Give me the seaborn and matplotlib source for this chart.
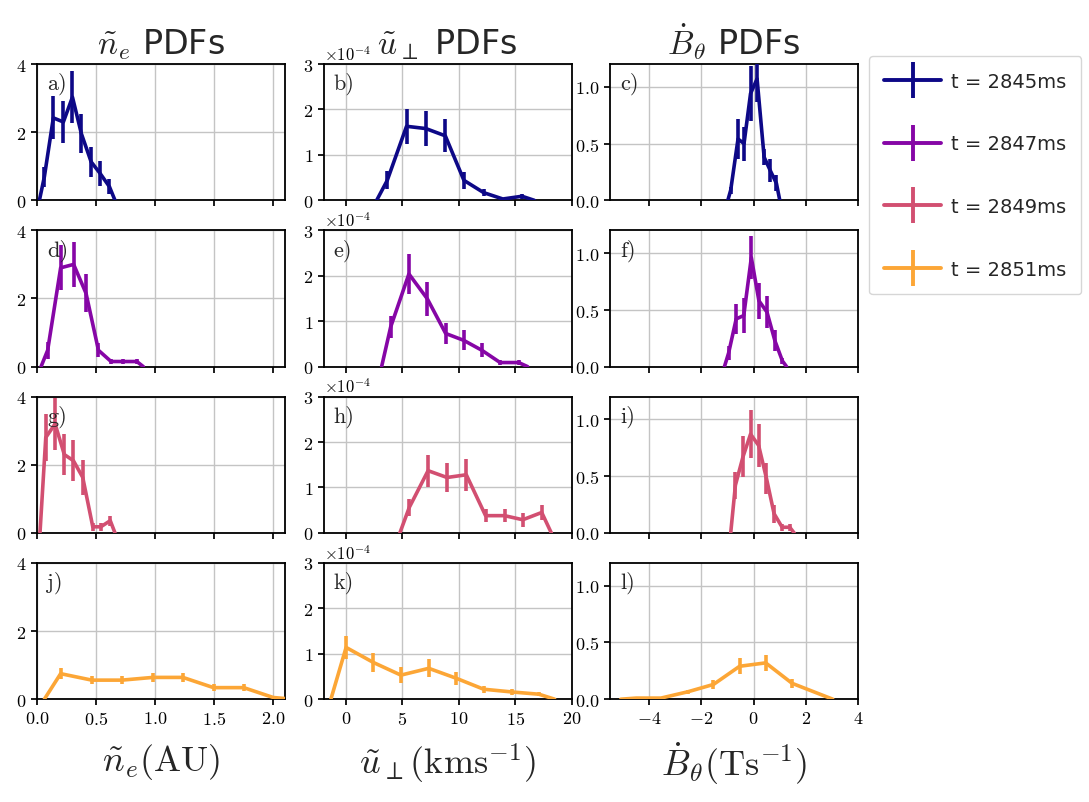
import numpy as np
import pandas as pd
import matplotlib
matplotlib.use("Agg")
import matplotlib.pyplot as plt
import seaborn as sns
from matplotlib.lines import Line2D

# ---------------- data ----------------
times = ["2845", "2847", "2849", "2851"]
panel_letters = ["a)", "b)", "c)", "d)", "e)", "f)", "g)", "h)", "i)", "j)", "k)", "l)"]

# column 1: n_e PDFs
ne_x_2845 = [0.02, 0.062, 0.138, 0.223, 0.30, 0.375, 0.458, 0.534, 0.613, 0.66]
ne_y_2845 = [0.0, 0.69, 2.42, 2.30, 3.03, 1.96, 1.13, 0.79, 0.40, 0.0]
ne_e_2845 = [0.0, 0.29, 0.63, 0.63, 0.77, 0.58, 0.44, 0.36, 0.22, 0.0]

ne_x_2847 = [0.034, 0.09, 0.20, 0.31, 0.415, 0.52, 0.627, 0.73, 0.845, 0.90]
ne_y_2847 = [0.0, 0.48, 2.90, 3.00, 2.15, 0.48, 0.15, 0.15, 0.15, 0.0]
ne_e_2847 = [0.0, 0.25, 0.66, 0.67, 0.56, 0.20, 0.08, 0.08, 0.08, 0.0]

ne_x_2849 = [0.025, 0.074, 0.153, 0.231, 0.308, 0.387, 0.472, 0.54, 0.62, 0.66]
ne_y_2849 = [0.0, 2.80, 3.20, 2.30, 2.12, 1.63, 0.18, 0.18, 0.36, 0.0]
ne_e_2849 = [0.0, 0.70, 0.76, 0.61, 0.61, 0.51, 0.12, 0.12, 0.15, 0.0]

ne_x_2851 = [0.062, 0.20, 0.464, 0.718, 0.98, 1.235, 1.494, 1.75, 2.0, 2.1]
ne_y_2851 = [0.0, 0.75, 0.56, 0.56, 0.64, 0.64, 0.34, 0.34, 0.05, 0.02]
ne_e_2851 = [0.0, 0.17, 0.12, 0.12, 0.14, 0.14, 0.10, 0.10, 0.0, 0.0]

# column 2: u_perp PDFs (units of 1e-4)
u_x_2845 = [2.71, 3.65, 5.36, 7.07, 8.80, 10.45, 12.2, 13.9, 15.6, 16.7]
u_y_2845 = [0.0, 0.44, 1.63, 1.58, 1.42, 0.44, 0.17, 0.03, 0.09, 0.0]
u_e_2845 = [0.0, 0.20, 0.38, 0.38, 0.36, 0.18, 0.08, 0.03, 0.05, 0.0]

u_x_2847 = [3.15, 3.95, 5.57, 7.21, 8.83, 10.42, 12.04, 13.66, 15.3, 16.1]
u_y_2847 = [0.0, 0.87, 2.04, 1.49, 0.73, 0.58, 0.36, 0.09, 0.09, 0.0]
u_e_2847 = [0.0, 0.25, 0.44, 0.38, 0.24, 0.22, 0.15, 0.05, 0.05, 0.0]

u_x_2849 = [4.77, 5.60, 7.27, 8.95, 10.66, 12.37, 14.05, 15.67, 17.35, 18.2]
u_y_2849 = [0.0, 0.56, 1.37, 1.22, 1.28, 0.38, 0.38, 0.29, 0.45, 0.0]
u_e_2849 = [0.0, 0.18, 0.35, 0.32, 0.35, 0.15, 0.15, 0.15, 0.16, 0.0]

u_x_2851 = [-1.35, 0.0, 2.41, 4.86, 7.33, 9.78, 12.2, 14.7, 17.1, 18.5]
u_y_2851 = [0.0, 1.14, 0.81, 0.53, 0.68, 0.46, 0.22, 0.16, 0.11, 0.0]
u_e_2851 = [0.0, 0.26, 0.21, 0.17, 0.20, 0.15, 0.08, 0.06, 0.05, 0.0]

# column 3: dB_theta/dt PDFs
b_x_2845 = [-0.99, -0.88, -0.60, -0.37, -0.12, 0.13, 0.40, 0.64, 0.87, 1.0]
b_y_2845 = [0.0, 0.09, 0.54, 0.50, 0.94, 1.07, 0.38, 0.26, 0.15, 0.0]
b_e_2845 = [0.0, 0.03, 0.18, 0.15, 0.24, 0.20, 0.07, 0.10, 0.07, 0.0]

b_x_2847 = [-1.12, -0.96, -0.67, -0.38, -0.09, 0.20, 0.51, 0.81, 1.10, 1.26]
b_y_2847 = [0.0, 0.12, 0.42, 0.45, 0.96, 0.58, 0.48, 0.23, 0.05, 0.0]
b_e_2847 = [0.0, 0.06, 0.13, 0.15, 0.19, 0.16, 0.14, 0.09, 0.03, 0.0]

b_x_2849 = [-0.88, -0.70, -0.41, -0.12, 0.19, 0.49, 0.78, 1.09, 1.38, 1.55]
b_y_2849 = [0.0, 0.42, 0.67, 0.87, 0.77, 0.48, 0.17, 0.05, 0.05, 0.0]
b_e_2849 = [0.0, 0.12, 0.18, 0.21, 0.19, 0.14, 0.08, 0.03, 0.03, 0.0]

b_x_2851 = [-5.09, -4.5, -3.55, -2.53, -1.54, -0.54, 0.46, 1.47, 3.03]
b_y_2851 = [0.0, 0.01, 0.01, 0.065, 0.13, 0.29, 0.32, 0.14, 0.0]
b_e_2851 = [0.0, 0.0, 0.0, 0.02, 0.04, 0.07, 0.07, 0.04, 0.0]

ne_data = [(ne_x_2845, ne_y_2845, ne_e_2845), (ne_x_2847, ne_y_2847, ne_e_2847),
           (ne_x_2849, ne_y_2849, ne_e_2849), (ne_x_2851, ne_y_2851, ne_e_2851)]
u_data = [(u_x_2845, u_y_2845, u_e_2845), (u_x_2847, u_y_2847, u_e_2847),
          (u_x_2849, u_y_2849, u_e_2849), (u_x_2851, u_y_2851, u_e_2851)]
b_data = [(b_x_2845, b_y_2845, b_e_2845), (b_x_2847, b_y_2847, b_e_2847),
          (b_x_2849, b_y_2849, b_e_2849), (b_x_2851, b_y_2851, b_e_2851)]

col_titles = [r"$\tilde{n}_e$ PDFs", r"$\tilde{u}_\perp$ PDFs", r"$\dot{B}_\theta$ PDFs"]
col_xlabels = [r"$\tilde{n}_e(\mathrm{AU})$", r"$\tilde{u}_\perp(\mathrm{kms}^{-1})$",
               r"$\dot{B}_\theta(\mathrm{Ts}^{-1})$"]
col_xlim = [(0, 2.1), (-2, 20), (-5.5, 4)]
col_xticks = [[0, 0.5, 1.0, 1.5, 2.0], [0, 5, 10, 15, 20], [-4, -2, 0, 2, 4]]
col_ylim = [(0, 4), (0, 3e-4), (0, 1.2)]
col_yticks = [[0, 2, 4], [0, 1e-4, 2e-4, 3e-4], [0, 0.5, 1.0]]
col_yscale = [1.0, 1e-4, 1.0]

# ---------------- style ----------------
sns.set_theme(style="ticks")
plt.rcParams["font.family"] = ["cmr10", "DejaVu Sans"]
plt.rcParams["mathtext.fontset"] = "cm"
plt.rcParams["axes.formatter.use_mathtext"] = True
plt.rcParams["axes.unicode_minus"] = True
plt.rcParams["axes.edgecolor"] = "black"
plt.rcParams["axes.linewidth"] = 1.3
plt.rcParams["xtick.color"] = "black"
plt.rcParams["ytick.color"] = "black"
plt.rcParams["xtick.major.size"] = 4
plt.rcParams["ytick.major.size"] = 4
plt.rcParams["xtick.labelsize"] = 13
plt.rcParams["ytick.labelsize"] = 13

colors = [plt.cm.plasma(v) for v in (0.0, 0.27, 0.53, 0.8)]

fig = plt.figure(figsize=(10.89, 8.03), dpi=100)
gs = fig.add_gridspec(4, 3, left=0.034, right=0.788, top=0.919, bottom=0.128,
                      wspace=0.155, hspace=0.22)

columns = [ne_data, u_data, b_data]
for r in range(4):
    for c in range(3):
        ax = fig.add_subplot(gs[r, c])
        x, y, e = columns[c][r]
        scale = col_yscale[c]
        df = pd.DataFrame({"x": x, "y": np.array(y) * scale, "e": np.array(e) * scale})
        sns.lineplot(data=df, x="x", y="y", ax=ax, color=colors[r], lw=2.6,
                     sort=False, estimator=None, legend=False, zorder=3)
        m = df["e"] > 0
        ax.errorbar(df["x"][m], df["y"][m], yerr=df["e"][m], fmt="none",
                    ecolor=colors[r], elinewidth=2.6, capsize=0, zorder=3)
        ax.set_xlim(*col_xlim[c])
        ax.set_ylim(*col_ylim[c])
        ax.set_xticks(col_xticks[c])
        ax.set_yticks(col_yticks[c])
        if c == 1:
            ax.ticklabel_format(axis="y", style="sci", scilimits=(0, 0), useMathText=True)
        ax.grid(True, color="#c4c4c4", lw=1.0, zorder=0)
        ax.set_axisbelow(True)
        ax.set_xlabel("")
        ax.set_ylabel("")
        ax.yaxis.get_offset_text().set_fontsize(12)
        if r < 3:
            ax.tick_params(axis="x", labelbottom=False)
        else:
            ax.set_xlabel(col_xlabels[c], fontsize=26, labelpad=10)
        if r == 0:
            ax.set_title(col_titles[c], fontsize=24, family="DejaVu Sans", pad=8)
        ax.text(0.04, 0.86, panel_letters[r * 3 + c], transform=ax.transAxes,
                fontsize=16, va="center", ha="left", zorder=5)

handles = [Line2D([], [], color=colors[i], lw=2.8, marker="|", markersize=26,
                  markeredgewidth=2.8) for i in range(4)]
labels = [f"t = {t}ms" for t in times]
fig.legend(handles, labels, loc="upper left", bbox_to_anchor=(0.789, 0.941),
           prop={"family": "DejaVu Sans", "size": 14}, numpoints=1,
           handlelength=2.9, handletextpad=0.5, labelspacing=2.25,
           borderpad=0.8, frameon=True, fancybox=True, edgecolor="#cccccc")

fig.savefig("out.png", dpi=100)
